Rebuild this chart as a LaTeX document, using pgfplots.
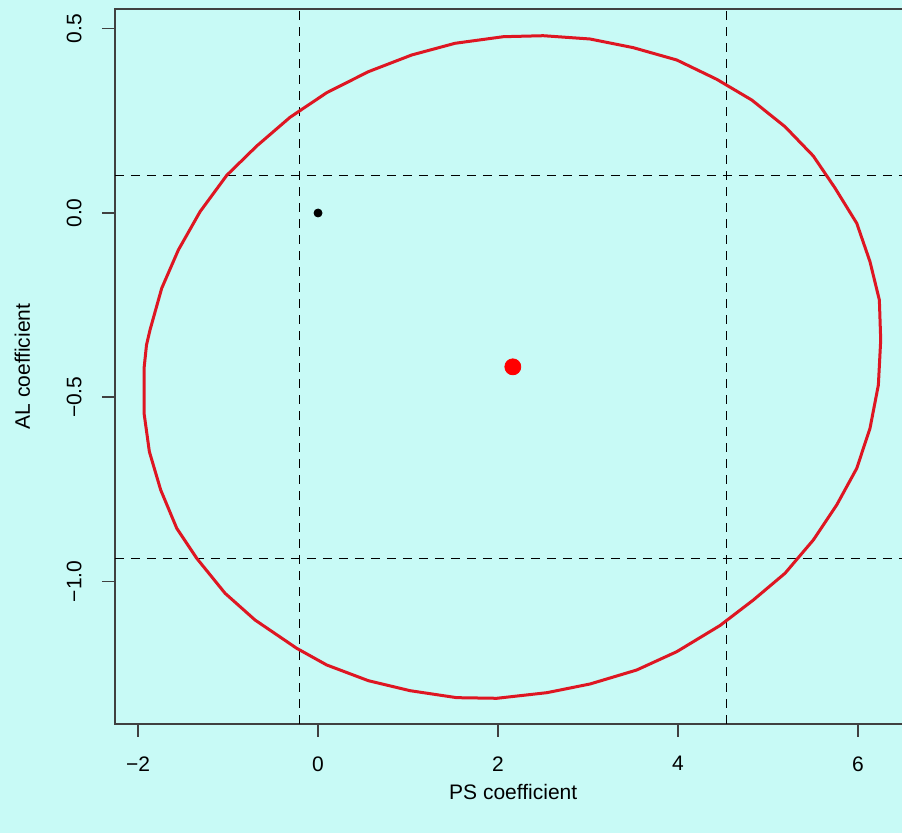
\documentclass[border=0pt]{standalone}
\usepackage{pgfplots}
\usepackage{pgfplotstable}
\pgfplotsset{compat=1.18}
\usepackage{fontspec}
\setmainfont{Liberation Sans}
\definecolor{bg}{RGB}{200,250,246}
\definecolor{ellred}{RGB}{222,22,34}

\pgfplotstableread{
x y
2.059 0.4784
2.503 0.4811
3.022 0.4722
3.503 0.4486
3.986 0.4152
4.430 0.3628
4.819 0.3066
5.189 0.2342
5.503 0.1547
5.744 0.0678
5.986 -0.0280
6.133 -0.1322
6.237 -0.2361
6.252 -0.3446
6.226 -0.4668
6.133 -0.5843
5.986 -0.6928
5.763 -0.7924
5.503 -0.8874
5.189 -0.9777
4.837 -1.0502
4.467 -1.1194
3.986 -1.1905
3.541 -1.2402
3.022 -1.2782
2.541 -1.3018
1.986 -1.3170
1.541 -1.3153
1.022 -1.2963
0.559 -1.2692
0.097 -1.2266
-0.237 -1.1813
-0.700 -1.1045
-1.033 -1.0320
-1.348 -0.9370
-1.570 -0.8556
-1.748 -0.7517
-1.874 -0.6478
-1.933 -0.5436
-1.933 -0.4214
-1.906 -0.3582
-1.867 -0.3175
-1.737 -0.2043
-1.552 -0.1004
-1.311 0.0035
-1.014 0.1023
-0.681 0.1818
-0.311 0.2597
0.097 0.3265
0.559 0.3834
1.041 0.4288
1.522 0.4605
2.059 0.4784
}\ellipsedata

\begin{document}
\begin{tikzpicture}
\path[use as bounding box] (-57.5pt,-54.5pt) rectangle (393.5pt,362pt);
\fill[bg] (-57.5pt,-54.5pt) rectangle (393.5pt,362pt);
\clip (-57.5pt,-54.5pt) rectangle (393.5pt,362pt);
\begin{axis}[
  at={(0,0)}, anchor=south west,
  scale only axis, width=398.25pt, height=357.5pt,
  xmin=-2.256, xmax=6.594, ymin=-1.3867, ymax=0.5536,
  axis background/.style={fill=bg},
  axis line style={black!75, line width=0.75pt},
  tick align=outside, tick pos=left,
  major tick length=6.5pt,
  every tick/.style={black!75, line width=0.75pt},
  xtick={-2,0,2,4,6}, xticklabels={−2,0,2,4,6},
  ytick={-1,-0.5,0,0.5}, yticklabels={−1.0,−0.5,0.0,0.5},
  ticklabel style={font=\fontsize{10.5}{12}\selectfont, inner sep=0pt},
  xticklabel style={anchor=north},
  yticklabel style={rotate=90, anchor=south},
  xticklabel shift=9.5pt,
  yticklabel shift=10pt,
  xlabel={PS coefficient},
  ylabel={AL coefficient},
  label style={font=\fontsize{10.5}{12}\selectfont, inner sep=0pt},
  xlabel style={at={(axis description cs:0.5,0)}, anchor=base, yshift=-38pt},
  ylabel style={at={(axis description cs:0,0.5)}, anchor=base, yshift=42.5pt},
  clip=true,
]
\addplot[black, line width=0.7pt, dash pattern=on 4.5pt off 3.5pt] coordinates {(-0.208,-1.3867) (-0.208,0.5536)};
\addplot[black, line width=0.7pt, dash pattern=on 4.5pt off 3.5pt] coordinates {(4.537,-1.3867) (4.537,0.5536)};
\addplot[black, line width=0.7pt, dash pattern=on 4.5pt off 3.5pt] coordinates {(-2.256,0.102) (6.594,0.102)};
\addplot[black, line width=0.7pt, dash pattern=on 4.5pt off 3.5pt] coordinates {(-2.256,-0.937) (6.594,-0.937)};
\addplot[ellred, line width=1.5pt, line join=round, mark=none] table {\ellipsedata};
\addplot[only marks, mark=*, mark size=2pt, black] coordinates {(0,0)};
\addplot[only marks, mark=*, mark size=4pt, red, mark options={draw=red, fill=red}] coordinates {(2.1645,-0.4175)};
\end{axis}
\end{tikzpicture}
\end{document}
